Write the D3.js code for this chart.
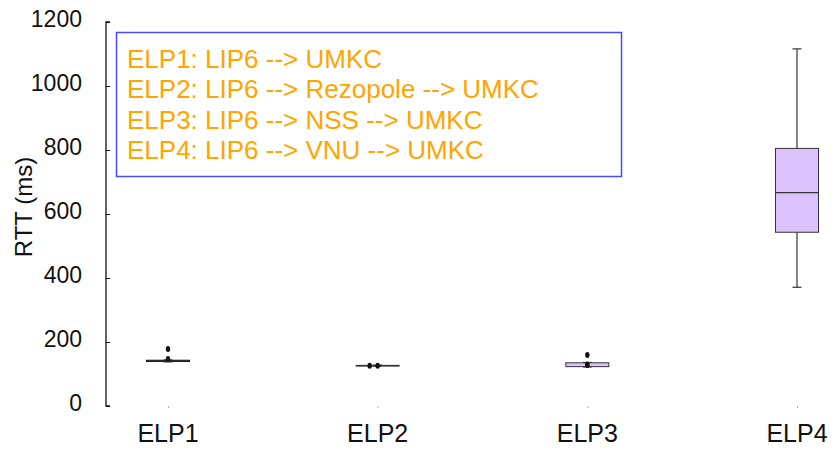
<!DOCTYPE html>
<html>
<head>
<meta charset="utf-8">
<script src="https://cdn.jsdelivr.net/npm/d3@7"></script>
<style>
  html,body{margin:0;padding:0;background:#fff;}
  svg{display:block;font-family:"Liberation Sans",Arial,Helvetica,sans-serif;}
</style>
</head>
<body>
<div id="chart"></div>
<script>
(function(){
  // categories and box statistics (RTT in ms)
  const categories=["ELP1","ELP2","ELP3","ELP4"];
  const whiskerLow=[138,125,122,371];
  const q1=[139,125,123,543];
  const median=[141,126,129,667];
  const q3=[143,127,135,805];
  const whiskerHigh=[144,128,136,1116];
  const outliers=[[147,178],[126,126],[128,130,159],[]];
  const yTicks=[0,200,400,600,800,1000,1200];
  const legendLines=[
    "ELP1: LIP6 --> UMKC",
    "ELP2: LIP6 --> Rezopole --> UMKC",
    "ELP3: LIP6 --> NSS --> UMKC",
    "ELP4: LIP6 --> VNU --> UMKC"
  ];

  const W=833,H=450;
  const svg=d3.select("#chart").append("svg").attr("width",W).attr("height",H);

  const y=d3.scaleLinear().domain([0,1200]).range([406,22]);
  const x=d3.scalePoint().domain(categories).range([168,797]);
  const boxW=43, capW=9;

  // y axis
  const ax=svg.append("g").attr("transform","translate(106,0)")
    .call(d3.axisRight(y).tickValues(yTicks).tickSize(4).tickFormat(""));
  ax.select(".domain").attr("d",`M4,${y(1200)}H0V${y(0)}H4`).attr("stroke","#111").attr("stroke-width",1.3);
  ax.selectAll(".tick line").attr("stroke","#111");
  svg.append("g").selectAll("text").data(yTicks).join("text")
    .attr("x",82).attr("y",d=>y(d)+5).attr("text-anchor","end")
    .attr("font-size",23).attr("fill","#111").text(d=>d);

  svg.append("text").attr("transform","translate(32,207) rotate(-90)")
    .attr("text-anchor","middle").attr("font-size",24).attr("fill","#111").text("RTT (ms)");

  // x ticks (tiny marks) and labels
  svg.append("g").selectAll("line").data(categories).join("line")
    .attr("x1",d=>x(d)).attr("x2",d=>x(d)+1).attr("y1",407).attr("y2",407)
    .attr("stroke","#666").attr("stroke-width",1);
  svg.append("g").selectAll("text").data(categories).join("text")
    .attr("x",d=>x(d)).attr("y",442).attr("text-anchor","middle")
    .attr("font-size",25).attr("fill","#111").text(d=>d);

  // boxes
  const data=categories.map((c,i)=>({c,lo:whiskerLow[i],q1:q1[i],md:median[i],q3:q3[i],hi:whiskerHigh[i],out:outliers[i]}));
  const g=svg.append("g").selectAll("g").data(data).join("g");
  const stroke="#333";
  g.append("line").attr("x1",d=>x(d.c)).attr("x2",d=>x(d.c))
    .attr("y1",d=>y(d.hi)).attr("y2",d=>y(d.q3)).attr("stroke",stroke).attr("stroke-width",1.2);
  g.append("line").attr("x1",d=>x(d.c)).attr("x2",d=>x(d.c))
    .attr("y1",d=>y(d.q1)).attr("y2",d=>y(d.lo)).attr("stroke",stroke).attr("stroke-width",1.2);
  g.append("line").attr("x1",d=>x(d.c)-capW/2).attr("x2",d=>x(d.c)+capW/2)
    .attr("y1",d=>y(d.hi)).attr("y2",d=>y(d.hi)).attr("stroke",stroke).attr("stroke-width",1.2);
  g.append("line").attr("x1",d=>x(d.c)-capW/2).attr("x2",d=>x(d.c)+capW/2)
    .attr("y1",d=>y(d.lo)).attr("y2",d=>y(d.lo)).attr("stroke",stroke).attr("stroke-width",1.2);
  g.append("rect").attr("x",d=>x(d.c)-boxW/2).attr("width",boxW)
    .attr("y",d=>y(d.q3)).attr("height",d=>Math.max(0.5,y(d.q1)-y(d.q3)))
    .attr("fill",(d,i)=>i===0?"#111":"#dcc2fc").attr("stroke",(d,i)=>i===0?"#111":stroke).attr("stroke-width",1);
  g.append("line").attr("x1",d=>x(d.c)-boxW/2).attr("x2",d=>x(d.c)+boxW/2)
    .attr("y1",d=>y(d.md)).attr("y2",d=>y(d.md)).attr("stroke",stroke).attr("stroke-width",1.2)
    .attr("stroke-opacity",(d,i)=>i===2?0:1);

  // outliers: repeated values are spread sideways
  g.each(function(d){
    const seen={};
    const pts=d.out.map(v=>{const k=seen[v]||0;seen[v]=k+1;return {v,k};});
    d3.select(this).selectAll("ellipse").data(pts).join("ellipse")
      .attr("cx",p=>x(d.c)-8*p.k).attr("cy",p=>y(p.v))
      .attr("rx",2.2).attr("ry",3).attr("fill","#111");
  });

  // legend
  svg.append("rect").attr("x",116.5).attr("y",32.5).attr("width",505).attr("height",144)
    .attr("fill","#fff").attr("stroke","#4a4aff").attr("stroke-width",1.5);
  svg.append("g").selectAll("text").data(legendLines).join("text")
    .attr("x",127).attr("y",(d,i)=>68+i*30.4)
    .attr("font-size",26).attr("fill","#ffa500").text(d=>d);
})();
</script>
</body>
</html>
